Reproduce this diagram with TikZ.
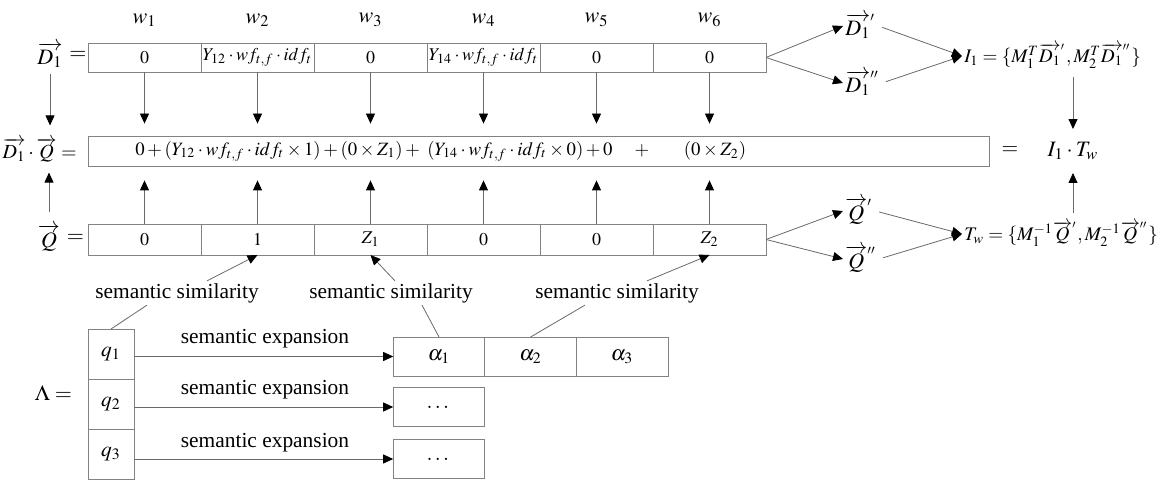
\documentclass[tikz,border=0pt]{standalone}
\usepackage{amsmath}
\usepackage{mathptmx}
\usepackage{fontspec}
\setmainfont{Liberation Serif}
\usetikzlibrary{arrows.meta, calc, positioning}
\definecolor{edge}{RGB}{130,130,130}
\definecolor{wire}{RGB}{105,105,105}
\newcommand{\vD}{\overrightarrow{D_1}}
\newcommand{\vQ}{\overrightarrow{Q}}
\newcommand{\tfw}[1]{Y_{#1}\cdot wf_{t,f}\cdot idf_t}

\begin{document}
\begin{tikzpicture}[
	x=0.5pt, y=-0.5pt,
	font=\fontsize{10.7}{12}\selectfont,
	% Styles for the vector cells and the connectors
	cell/.style={draw=edge, minimum width=56.5pt, minimum height=14.5pt, inner sep=0pt, outer sep=0pt, font=\fontsize{9}{11}\selectfont},
	qcell/.style={cell, minimum height=15.5pt},
	lamcell/.style={draw=edge, minimum width=23pt, minimum height=25pt, inner sep=0pt, outer sep=0pt},
	expcell/.style={draw=edge, minimum width=45.8pt, minimum height=19.5pt, inner sep=0pt, outer sep=0pt},
	link/.style={draw=wire, -{Triangle[length=5pt, width=4.5pt, color=black]}},
	tie/.style={draw=wire},
	bigmath/.style={font=\fontsize{11}{13}\selectfont},
	summath/.style={font=\fontsize{9.4}{11}\selectfont},
	sidemath/.style={font=\fontsize{9.6}{11}\selectfont, inner sep=1pt},
	note/.style={inner sep=1pt}
	]
	\useasboundingbox (0,0) rectangle (1162,480);
	
	% ==========================================
	% 1. DOCUMENT VECTOR (D1)
	% ==========================================
	\node[bigmath] (w1) at (144.5,20) {$w_1$};
	\node[bigmath] (w2) at (257.5,20) {$w_2$};
	\node[bigmath] (w3) at (370.5,20) {$w_3$};
	\node[bigmath] (w4) at (483.5,20) {$w_4$};
	\node[bigmath] (w5) at (596.5,20) {$w_5$};
	\node[bigmath] (w6) at (709.5,20) {$w_6$};
	
	\node[bigmath, inner sep=1pt] (dvec) at (50,55) {$\vD$};
	\node[bigmath, inner sep=1pt, right=1pt of dvec] (deq) {$=$};
	
	\node[cell] (d1) at (144.5,57.5) {$0$};
	\node[cell] (d2) at (257.5,57.5) {$\tfw{12}$};
	\node[cell] (d3) at (370.5,57.5) {$0$};
	\node[cell] (d4) at (483.5,57.5) {$\tfw{14}$};
	\node[cell] (d5) at (596.5,57.5) {$0$};
	\node[cell] (d6) at (709.5,57.5) {$0$};
	
	% ==========================================
	% 2. INNER PRODUCT ROW
	% ==========================================
	\node[font=\fontsize{10}{12}\selectfont, anchor=east, inner sep=1pt] (dq) at (79,150) {$\vD\cdot\vQ =$};
	\node[draw=edge, minimum width=450.5pt, minimum height=15pt, inner sep=0pt] (mid) at (538.5,151) {};
	\node[summath] (sum) at (374,151) {$0+(\tfw{12}\times 1)+(0\times Z_1)+\ (\tfw{14}\times 0)+0$};
	\node[summath] (plus) at (642,151) {$+$};
	\node[summath] (last) at (715,151) {$(0\times Z_2)$};
	\node (eqr) at (1010,151) {$=$};
	\node[bigmath] (itw) at (1073,151) {$I_1\cdot T_w$};
	
	% ==========================================
	% 3. QUERY VECTOR (Q)
	% ==========================================
	\node[bigmath, inner sep=1pt] (qvec) at (49,238) {$\vQ$};
	\node[bigmath, inner sep=1pt, right=1pt of qvec] (qeq) {$=$};
	
	\node[qcell] (q1) at (144.5,239.5) {$0$};
	\node[qcell] (q2) at (257.5,239.5) {$1$};
	\node[qcell] (q3) at (370.5,239.5) {$Z_1$};
	\node[qcell] (q4) at (483.5,239.5) {$0$};
	\node[qcell] (q5) at (596.5,239.5) {$0$};
	\node[qcell] (q6) at (709.5,239.5) {$Z_2$};
	
	% Cells down / up into the product row
	\draw[link, shorten >=6pt] (d1.south) -- (d1.south |- mid.north);
	\draw[link, shorten >=6pt] (d2.south) -- (d2.south |- mid.north);
	\draw[link, shorten >=6pt] (d3.south) -- (d3.south |- mid.north);
	\draw[link, shorten >=6pt] (d4.south) -- (d4.south |- mid.north);
	\draw[link, shorten >=6pt] (d5.south) -- (d5.south |- mid.north);
	\draw[link, shorten >=6pt] (d6.south) -- (d6.south |- mid.north);
	\draw[link, shorten >=7pt] (q1.north) -- (q1.north |- mid.south);
	\draw[link, shorten >=7pt] (q2.north) -- (q2.north |- mid.south);
	\draw[link, shorten >=7pt] (q3.north) -- (q3.north |- mid.south);
	\draw[link, shorten >=7pt] (q4.north) -- (q4.north |- mid.south);
	\draw[link, shorten >=7pt] (q5.north) -- (q5.north |- mid.south);
	\draw[link, shorten >=7pt] (q6.north) -- (q6.north |- mid.south);
	\draw[link, shorten <=2pt, shorten >=5pt] (dvec.south) -- (dvec.south |- dq.north);
	\draw[link, shorten <=5pt, shorten >=4pt] (qvec.north) -- (qvec.north |- dq.south);
	
	% ==========================================
	% 4. SPLIT VECTORS AND TRANSFORMS
	% ==========================================
	\node[bigmath, inner sep=1pt, anchor=west] (d1a) at (843,26) {$\vD^{'}$};
	\node[bigmath, inner sep=1pt, anchor=west] (d1b) at (843,83) {$\vD^{''}$};
	\node[sidemath, anchor=west] (ione) at (962,56) {$I_1=\{M_1^T\vD^{'},M_2^T\vD^{''}\}$};
	\draw[link] (d6.east) -- (d1a.west);
	\draw[link] (d6.east) -- (d1b.west);
	\draw[link, shorten <=2pt] (d1a.east) -- (ione.west);
	\draw[link, shorten <=2pt] (d1b.east) -- (ione.west);
	
	\node[bigmath, inner sep=1pt, anchor=west] (q1a) at (843,211) {$\vQ^{'}$};
	\node[bigmath, inner sep=1pt, anchor=west] (q1b) at (843,259) {$\vQ^{''}$};
	\node[sidemath, anchor=west] (tw) at (962,234) {$T_w=\{M_1^{-1}\vQ^{'},M_2^{-1}\vQ^{''}\}$};
	\draw[link] (q6.east) -- (q1a.west);
	\draw[link] (q6.east) -- (q1b.west);
	\draw[link, shorten <=2pt] (q1a.east) -- (tw.west);
	\draw[link, shorten <=2pt] (q1b.east) -- (tw.west);
	
	\draw[link, shorten <=3pt, shorten >=3pt] (ione.south -| itw.north) -- (itw.north);
	\draw[link, shorten <=3pt, shorten >=3pt] (tw.north -| itw.south) -- (itw.south);
	
	% ==========================================
	% 5. SEMANTIC EXPANSION OF THE QUERY TERMS
	% ==========================================
	\node[note] (sim1) at (177,293) {semantic similarity};
	\node[note] (sim2) at (391,293) {semantic similarity};
	\node[note] (sim3) at (617,293) {semantic similarity};
	\draw[link] ($(sim1.north)+(30,0)$) -- (q2.south);
	\draw[link] ($(sim2.north)+(4,0)$) -- (q3.south);
	\draw[link] ($(sim3.north)+(30,0)$) -- (q6.south);
	
	\node[bigmath, anchor=east] (lam) at (79,393) {$\Lambda =$};
	\node[lamcell] (l1) at (111,354) {$q_1$};
	\node[lamcell] (l2) at (111,404) {$q_2$};
	\node[lamcell] (l3) at (111,454) {$q_3$};
	
	\node[expcell] (a1) at (439,356.5) {$\alpha_1$};
	\node[expcell] (a2) at (530.6,356.5) {$\alpha_2$};
	\node[expcell] (a3) at (622.2,356.5) {$\alpha_3$};
	\node[expcell] (e2) at (439,407) {$\dots$};
	\node[expcell] (e3) at (439,459) {$\dots$};
	
	\draw[tie] ($(sim1.south)+(-30,0)$) -- (l1.north);
	\draw[tie] ($(sim2.south)+(31,0)$) -- (a1.north);
	\draw[tie] ($(sim3.south)+(-32,0)$) -- (a2.north);
	
	\node[note] (ex1) at (265,339) {semantic expansion};
	\node[note] (ex2) at (265,390) {semantic expansion};
	\node[note] (ex3) at (265,443) {semantic expansion};
	\draw[link] (l1.east |- a1.west) -- (a1.west);
	\draw[link] (l2.east |- e2.west) -- (e2.west);
	\draw[link] (l3.east |- e3.west) -- (e3.west);
	
\end{tikzpicture}
\end{document}
